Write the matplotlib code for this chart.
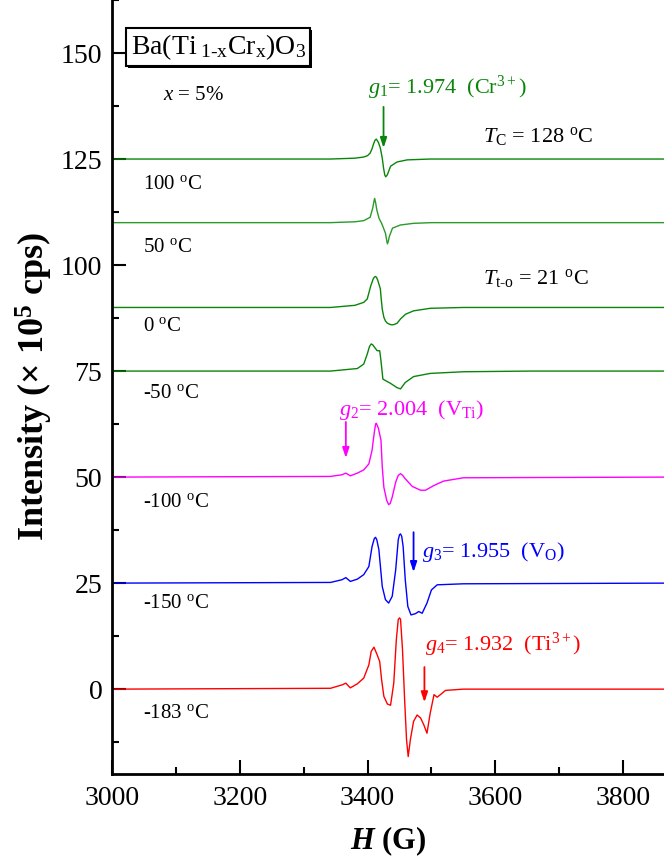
import matplotlib
matplotlib.use("Agg")
import matplotlib.pyplot as plt
import matplotlib.patheffects as pe
from matplotlib.ticker import MultipleLocator

plt.rcParams["font.family"] = ["Liberation Serif", "DejaVu Serif"]
plt.rcParams["mathtext.fontset"] = "custom"
plt.rcParams["mathtext.rm"] = "Liberation Serif"
plt.rcParams["mathtext.it"] = "Liberation Serif:italic"
plt.rcParams["mathtext.bf"] = "Liberation Serif:bold"
plt.rcParams["mathtext.bfit"] = "Liberation Serif:italic:bold"

# EPR spectra: field (G) and signal relative to each baseline
temps = ["100", "50", "0", "-50", "-100", "-150", "-183"]
offsets = [125, 110, 90, 75, 50, 25, 0]
colors = ["#0a850a", "#2a9a2a", "#0a850a", "#0a850a", "#ff00ff", "#0000ff", "#ff0000"]
label_y = [118.9, 104.2, 85.4, 69.8, 44.1, 20.3, -5.7]

H_100 = [3000, 3342, 3380, 3394, 3400, 3404, 3407, 3409, 3411.5, 3413.5, 3415, 3417, 3420, 3423,
         3425, 3427, 3428.5, 3431, 3436, 3446, 3462, 3498, 3870]
S_100 = [0, 0, 0.2, 0.47, 0.8, 1.4, 2.4, 3.4, 4.4, 4.7, 4.4, 3.9, 2.6, 0.2,
         -2.1, -3.8, -4.2, -3.7, -1.7, -0.7, -0.2, 0, 0]

H_50 = [3000, 3342, 3380, 3394, 3404, 3408, 3410, 3411, 3412.5, 3414.5, 3418, 3422, 3425, 3428,
        3430, 3431, 3432.5, 3434, 3439, 3451.5, 3472, 3500, 3870]
S_50 = [0, 0, 0.2, 0.47, 1.26, 3.4, 5.0, 5.7, 4.8, 3.0, 1.0, -0.16, -1.3, -2.5,
        -4.2, -5.0, -4.4, -3.3, -1.3, -0.55, -0.16, 0, 0]

H_0 = [3000, 3342, 3380, 3394, 3399.5, 3405, 3409, 3411, 3412.5, 3414, 3416, 3420, 3421.4, 3423,
       3425.5, 3428, 3431, 3435, 3438.6, 3442, 3446.4, 3451.6, 3459.4, 3472, 3498, 3550, 3870]
S_0 = [0, 0, 0.5, 1.2, 2.0, 5.1, 6.8, 7.2, 7.3, 7.1, 6.4, 4.4, 2.0, -0.4,
       -2.3, -3.2, -3.7, -4.0, -4.1, -4.0, -3.7, -2.7, -1.6, -0.8, -0.2, 0, 0]

H_m50 = [3000, 3342, 3384, 3394, 3399.5, 3403, 3405.7, 3408, 3411, 3415, 3419, 3421, 3424, 3436,
         3446, 3451.6, 3459, 3472, 3498, 3550, 3655, 3870]
S_m50 = [0, 0, 0.6, 1.65, 4.0, 5.8, 6.4, 6.2, 5.6, 4.8, 4.8, 2.4, -1.9, -2.9,
         -3.9, -4.2, -2.7, -1.3, -0.55, -0.16, 0, 0]

H_m100 = [3000, 3342, 3360, 3366, 3373, 3384, 3394, 3402, 3407, 3410.5, 3412.5, 3413.5, 3414.5,
          3417, 3421, 3423, 3425.5, 3430, 3433, 3435.5, 3438.6, 3444, 3448, 3451.6, 3455, 3459,
          3470, 3483, 3490.6, 3503.6, 3519, 3550, 3870]
S_m100 = [0, 0.16, 0.55, 0.94, 0.3, 0.94, 1.7, 3.1, 6.3, 10.5, 12.4, 12.7, 12.4,
          11.5, 8.7, 2.4, -2.4, -5.5, -6.5, -6.2, -4.7, -1.2, 0.4, 0.8, 0.4, -0.4,
          -2.2, -3.1, -3.1, -2.0, -0.94, -0.16, 0]

H_m150 = [3000, 3342, 3360, 3366, 3373, 3384, 3394, 3402, 3407, 3410.5, 3412.5, 3414.5, 3417.7,
          3423, 3428, 3433, 3438.6, 3444, 3448, 3450, 3451.6, 3453.5, 3455.7, 3459, 3463, 3468,
          3475, 3480, 3485.5, 3493, 3500, 3509, 3550, 3870]
S_m150 = [0, 0.16, 0.8, 1.3, 0.4, 0.94, 2.0, 3.9, 8.6, 10.5, 10.8, 10.2, 7.9,
          -0.8, -3.9, -4.7, -3.1, 3.1, 10.2, 11.4, 11.6, 11.0, 8.6, 0.8, -5.5, -7.5,
          -7.2, -6.7, -7.1, -4.7, -1.6, -0.4, -0.16, 0]

H_m183 = [3000, 3342, 3360, 3366, 3373, 3384, 3394, 3402, 3405.7, 3410, 3415, 3419, 3422, 3425.5,
          3431, 3436, 3441, 3445, 3448, 3450, 3451.6, 3454.7, 3458, 3461, 3463.6, 3467, 3472, 3477.6,
          3483, 3488, 3493, 3498, 3504, 3509, 3514, 3522, 3550, 3870]
S_m183 = [0, 0.2, 1.0, 1.4, 0.3, 1.26, 2.6, 5.7, 8.9, 9.9, 8.1, 6.5, 2.2, -1.7,
          -3.5, -3.8, 1.4, 11.6, 16.4, 16.8, 16.5, 9.3, -2.5, -11.9, -15.9, -11.9, -7.6, -6.1,
          -6.8, -8.4, -10.4, -5.7, -1.3, -1.9, -1.3, -0.3, 0, 0]

fields = [H_100, H_50, H_0, H_m50, H_m100, H_m150, H_m183]
signals = [S_100, S_50, S_0, S_m50, S_m100, S_m150, S_m183]

# g-factor markers: (arrow field, arrow top, arrow tip, text x, text y, text, colour)
g_marks = [
    (3425, 137.3, 127.6, 3401, 141.7, r"$g_1$= 1.974  (Cr$^{3+}$)", "#0a850a"),
    (3366, 63.0, 54.5, 3356, 65.8, r"$g_2$= 2.004  (V$_{\rm Ti}$)", "#ff00ff"),
    (3472, 37.0, 27.6, 3485, 32.4, r"$g_3$= 1.955  (V$_{\rm O}$)", "#0000ff"),
    (3489, 5.2, -3.1, 3490, 10.4, r"$g_4$= 1.932  (Ti$^{3+}$)", "#ff0000"),
]

fig = plt.figure(figsize=(6.64, 8.57), dpi=100)
ax = fig.add_axes([0.1687, 0.0969, 0.8313, 0.9031])

for H, S, off, col, t, ly in zip(fields, signals, offsets, colors, temps, label_y):
    ax.plot(H, [s + off for s in S], color=col, lw=1.0)
    ax.text(3048, ly, t + r" $^{\rm o}$C", fontsize=15, va="center", ha="left")

for xa, y0, y1, tx, ty, txt, col in g_marks:
    ax.annotate("", xy=(xa, y1), xytext=(xa, y0),
                arrowprops=dict(arrowstyle="-|>,head_length=0.6,head_width=0.2",
                                color=col, lw=1.3, shrinkA=0, shrinkB=0))
    ax.text(tx, ty, txt, color=col, fontsize=16, va="center", ha="left")

ax.text(3581, 130.2, r"$T_{\rm C}$ = 128 $^{\rm o}$C", fontsize=16, va="center")
ax.text(3581, 96.9, r"$T_{\rm t\text{-}o}$ = 21 $^{\rm o}$C", fontsize=16, va="center")
ax.text(3080, 139.9, r"$x$ = 5%", fontsize=15, va="center")
box = ax.text(3029, 151.4, r"Ba(Ti$_{\rm\ 1\text{-}x}$Cr$_{\rm x}$)O$_3$", fontsize=20, va="center",
              bbox=dict(boxstyle="square,pad=0.15", fc="white", ec="black", lw=1.5))
box.get_bbox_patch().set_path_effects([pe.SimplePatchShadow(offset=(1.5, -1.5), shadow_rgbFace="black", alpha=1.0),
                                       pe.Normal()])

ax.set_xlim(3000, 3864)
ax.set_ylim(-20, 162.5)
ax.xaxis.set_minor_locator(MultipleLocator(100))
ax.yaxis.set_minor_locator(MultipleLocator(12.5))
ax.set_xticks([3000, 3200, 3400, 3600, 3800])
ax.set_yticks([0, 25, 50, 75, 100, 125, 150])
ax.tick_params(which="both", direction="in", width=1.5, labelsize=20)
ax.tick_params(which="major", length=10)
ax.tick_params(which="minor", length=5)
ax.tick_params(axis="x", pad=9)
ax.tick_params(axis="y", pad=7)
for side in ["top", "right"]:
    ax.spines[side].set_visible(False)
for side in ["left", "bottom"]:
    ax.spines[side].set_linewidth(2)

ax.set_xlabel(r"$\mathbfit{H}$ (G)", fontsize=22, fontweight="bold", labelpad=9)
ax.set_ylabel(r"Intensity (× 10$^{\mathbf{5}}$ cps)", fontsize=26, fontweight="bold", labelpad=4)

fig.savefig("out.png", dpi=100)
